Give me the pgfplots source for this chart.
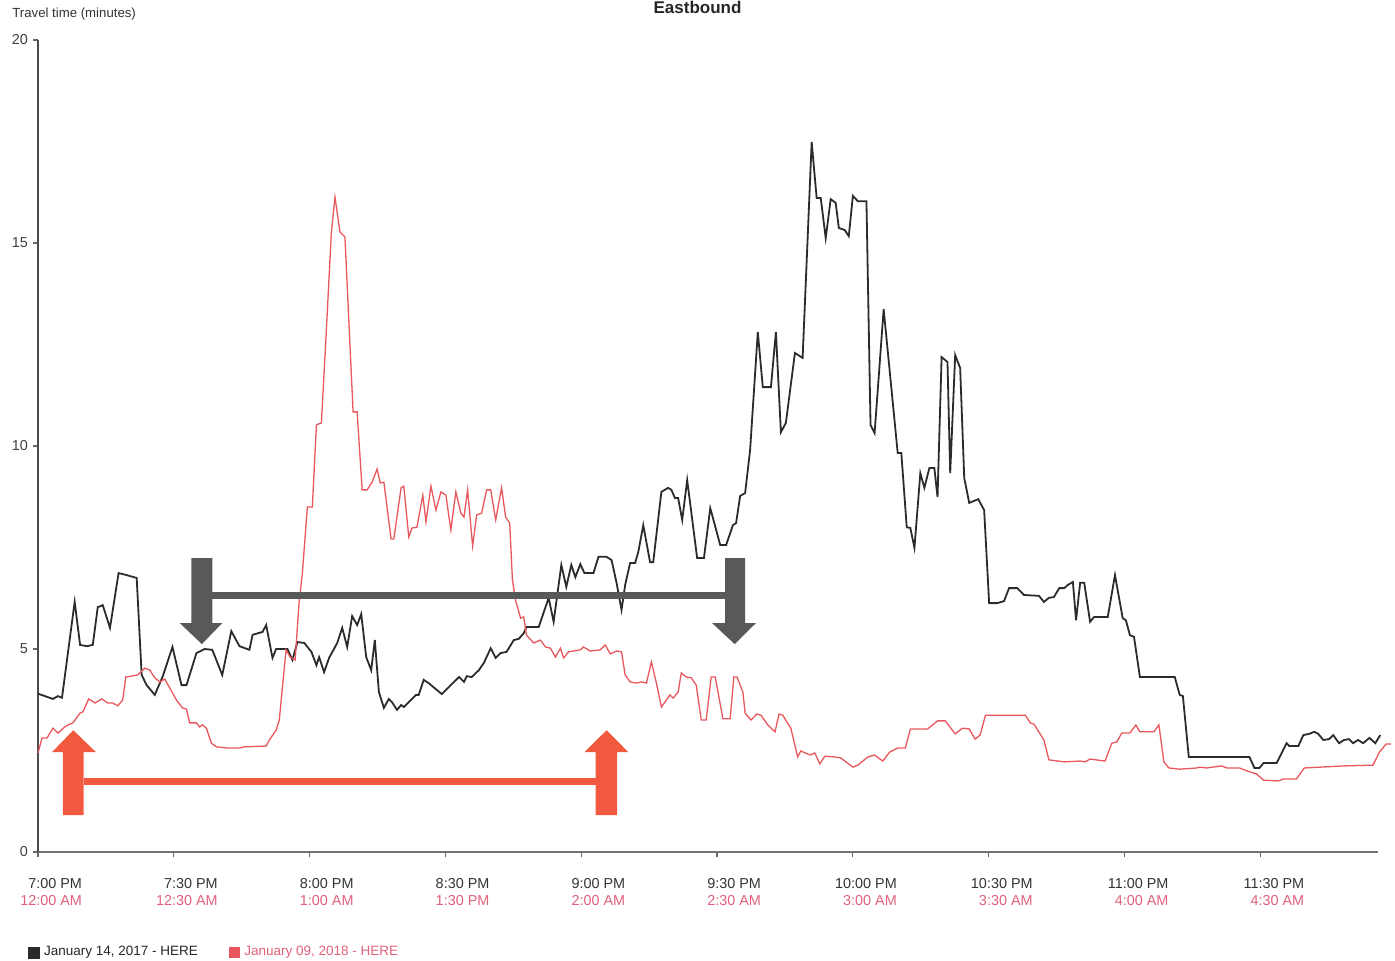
\documentclass[border=0pt]{standalone}
\usepackage{fontspec}
\setmainfont{Liberation Sans}
\usepackage{pgfplots}
\pgfplotsset{compat=1.18}
\definecolor{blk}{HTML}{2B2B2B}
\definecolor{lred}{HTML}{E8575D}
\definecolor{tred}{HTML}{E0607A}
\definecolor{agray}{HTML}{58595B}
\definecolor{ared}{HTML}{F15A3F}
\begin{document}
\begin{tikzpicture}[x=1pt,y=1pt]
\useasboundingbox (0,0) rectangle (697.5,480);
\begin{axis}[
  at={(19pt,54pt)}, anchor=south west,
  scale only axis, width=670pt, height=406pt,
  xmin=0, xmax=296, ymin=0, ymax=20,
  axis x line*=bottom, axis y line*=left,
  x axis line style={draw=black!55, line width=1.2pt},
  y axis line style={draw=black!70, line width=0.8pt},
  xtick={0,30,...,270},
  xticklabels={
    {7:00 PM\\\textcolor{tred}{12:00 AM}},
    {7:30 PM\\\textcolor{tred}{12:30 AM}},
    {8:00 PM\\\textcolor{tred}{1:00 AM}},
    {8:30 PM\\\textcolor{tred}{1:30 PM}},
    {9:00 PM\\\textcolor{tred}{2:00 AM}},
    {9:30 PM\\\textcolor{tred}{2:30 AM}},
    {10:00 PM\\\textcolor{tred}{3:00 AM}},
    {10:30 PM\\\textcolor{tred}{3:30 AM}},
    {11:00 PM\\\textcolor{tred}{4:00 AM}},
    {11:30 PM\\\textcolor{tred}{4:30 AM}}},
  ytick={0,5,10,15,20},
  tick align=outside, major tick length=2.5pt,
  tick style={black!60, line width=0.6pt},
  /pgf/number format/assume math mode=true,
  yticklabel style={font=\fontsize{7.2}{8}\selectfont, text=black!75, xshift=1pt},
  xticklabel style={font=\fontsize{7.2}{8.6}\selectfont, text=black!80, align=right, anchor=north east, xshift=25.5pt, yshift=-7pt},
  clip=false,
  legend style={at={(axis description cs:-0.0075,-0.124)}, anchor=west, draw=none, fill=none, inner sep=0pt,
    font=\fontsize{6.75}{8}\selectfont, text=black!85, /tikz/every even column/.append style={column sep=13.5pt}},
  legend columns=2, legend cell align=left,
  legend image code/.code={\fill[#1] (0pt,-2.5pt) rectangle (5pt,2.5pt);},
]
\addplot[blk, line width=0.9pt] coordinates {
(0,3.9) (3.3,3.77) (4.4,3.84) (5.3,3.8) (8.1,6.16) (9.3,5.1) (10.8,5.07) (12.1,5.1) (13.2,6.03) (14.3,6.08)
(15.9,5.52) (17.8,6.87) (19.6,6.82) (21.8,6.75) (22.9,4.36) (24.0,4.11) (25.8,3.87) (27.5,4.31) (29.7,5.05) (31.7,4.11)
(32.8,4.11) (35.0,4.9) (36.8,5.0) (38.5,4.98) (40.7,4.36) (42.7,5.44) (44.5,5.07) (46.7,4.98) (47.4,5.35) (49.6,5.42)
(50.4,5.59) (51.8,4.78) (52.6,5.0) (55.1,5.0) (56.2,4.73) (57.3,5.17) (58.8,5.15) (60.4,4.93) (61.5,4.6) (62.1,4.8)
(63.2,4.43) (64.3,4.78) (66.1,5.15) (67.2,5.52) (68.3,5.05) (69.4,5.81) (70.5,5.59) (71.4,5.86) (72.5,4.8) (73.6,4.48)
(74.4,5.22) (75.3,3.94) (76.4,3.55) (77.5,3.77) (78.2,3.69) (79.3,3.5) (80.2,3.62) (80.8,3.57) (81.9,3.69) (83.5,3.87)
(84.1,3.87) (85.2,4.24) (86.3,4.16) (87.9,4.01) (89.2,3.89) (90.7,4.06) (91.9,4.19) (93.0,4.31) (94.1,4.19) (94.7,4.33)
(95.8,4.31) (97.4,4.48) (98.5,4.66) (100.0,5.02) (101.1,4.78) (102.2,4.9) (103.5,4.93) (105.1,5.22) (106.2,5.25) (107.3,5.39)
(107.9,5.54) (110.6,5.54) (112.8,6.26) (113.9,5.67) (115.6,7.07) (116.7,6.53) (117.8,7.07) (118.7,6.77) (119.8,7.09) (120.7,6.87)
(122.7,6.87) (123.8,7.27) (125.6,7.27) (126.7,7.19) (127.8,6.63) (128.9,5.96) (129.7,6.58) (130.8,7.12) (131.9,7.12) (132.6,7.39)
(133.7,8.05) (135.2,7.14) (135.9,7.14) (137.7,8.87) (139.2,8.97) (139.9,8.92) (140.7,8.72) (141.4,8.72) (142.3,8.18) (143.4,9.16)
(145.6,7.24) (147.1,7.24) (148.5,8.47) (150.7,7.56) (152.0,7.56) (153.5,8.05) (154.2,8.1) (155.1,8.77) (156.2,8.84) (157.3,9.9)
(159.0,12.81) (160.1,11.45) (161.9,11.45) (163.0,12.81) (164.1,10.34) (165.2,10.57) (167.2,12.29) (168.9,12.17) (170.9,17.49) (172.0,16.11)
(172.9,16.11) (174.0,15.12) (175.1,16.08) (176.2,15.99) (176.9,15.37) (178.2,15.32) (179.1,15.17) (180.0,16.16) (181.1,16.03) (183.0,16.03)
(183.9,10.52) (184.8,10.32) (186.8,13.37) (189.9,9.83) (190.7,9.83) (191.9,8.0) (192.7,7.98) (193.6,7.49) (194.9,9.33) (195.8,8.97)
(196.9,9.46) (198.0,9.46) (198.7,8.74) (199.6,12.19) (200.9,12.07) (201.5,9.33) (202.6,12.24) (203.7,11.92) (204.6,9.21) (205.7,8.6)
(207.7,8.69) (209.0,8.42) (210.1,6.13) (211.9,6.13) (213.4,6.18) (214.5,6.5) (216.3,6.5) (217.8,6.33) (221.1,6.31) (222.2,6.16)
(223.3,6.26) (224.4,6.28) (225.6,6.5) (226.7,6.5) (227.5,6.58) (228.6,6.65) (229.3,5.71) (230.2,6.63) (231.1,6.63) (232.4,5.67)
(233.3,5.79) (236.3,5.79) (237.9,6.82) (239.6,5.76) (240.3,5.71) (241.2,5.34) (242.1,5.3) (243.4,4.31) (251.1,4.31) (252.2,3.87)
(252.9,3.84) (254.2,2.34) (267.6,2.34) (268.7,2.07) (269.8,2.07) (270.7,2.19) (273.6,2.19) (275.8,2.68) (276.4,2.61) (278.4,2.61)
(279.5,2.88) (280.8,2.91) (281.9,2.96) (282.8,2.91) (283.9,2.76) (285.2,2.78) (286.1,2.88) (287.4,2.68) (288.5,2.76) (289.6,2.78)
(290.5,2.68) (291.6,2.76) (292.7,2.68) (294.1,2.81) (295.4,2.68) (296.5,2.88)
};
\addlegendentry{January 14, 2017 - HERE}
\addplot[lred, line width=0.65pt] coordinates {
(0,2.44) (0.9,2.81) (2.0,2.81) (3.3,3.05) (4.4,2.93) (5.9,3.08) (6.6,3.13) (7.7,3.18) (9.3,3.42) (9.9,3.45)
(11.2,3.77) (12.6,3.67) (14.1,3.77) (15.4,3.67) (16.5,3.67) (17.6,3.6) (18.7,3.74) (19.4,4.31) (22.0,4.36) (23.6,4.53)
(24.7,4.48) (25.8,4.29) (26.9,4.19) (28.0,4.26) (29.1,4.04) (30.6,3.74) (31.9,3.55) (32.8,3.52) (33.5,3.18) (35.0,3.18)
(35.7,3.08) (36.3,3.13) (37.2,3.05) (38.3,2.68) (39.4,2.59) (41.9,2.56) (44.5,2.56) (45.6,2.59) (50.4,2.61) (51.1,2.76)
(52.6,3.0) (53.3,3.25) (54.0,4.06) (54.8,4.98) (55.7,4.8) (56.8,4.73) (57.7,6.2) (58.4,6.87) (59.5,8.5) (60.6,8.5)
(61.5,10.52) (62.6,10.57) (63.7,12.86) (64.8,15.25) (65.6,16.13) (66.7,15.27) (67.8,15.15) (69.6,10.84) (70.5,10.84) (71.6,8.92)
(72.7,8.92) (73.8,9.11) (74.9,9.43) (75.6,9.09) (76.4,9.11) (78.0,7.71) (78.6,7.71) (80.2,8.97) (80.8,9.01) (81.9,7.76)
(82.6,7.98) (83.7,8.0) (85.0,8.79) (85.7,8.13) (86.8,9.01) (87.9,8.42) (89.0,8.87) (90.1,8.79) (91.2,7.93) (92.3,8.87)
(93.4,8.35) (94.1,8.25) (94.9,8.92) (96.0,7.54) (96.9,8.3) (98.0,8.35) (99.1,8.92) (100.0,8.92) (101.1,8.18) (102.4,8.97)
(103.3,8.25) (104.2,8.1) (104.8,6.7) (105.5,6.2) (106.6,5.76) (107.3,5.79) (107.9,5.34) (109.5,5.15) (111.0,5.22) (112.1,5.05)
(113.2,5.02) (114.3,4.8) (115.4,5.02) (116.1,4.78) (117.2,4.93) (119.8,4.98) (120.5,5.05) (122.0,4.95) (124.2,4.98) (125.3,5.1)
(126.4,4.88) (127.8,4.95) (128.9,4.93) (129.7,4.36) (130.8,4.19) (132.2,4.16) (133.3,4.19) (134.4,4.16) (135.5,4.68) (136.6,4.16)
(137.7,3.57) (139.6,3.87) (140.3,3.79) (141.4,3.94) (142.1,4.41) (143.2,4.31) (144.3,4.29) (145.4,4.11) (146.5,3.25) (147.6,3.25)
(148.7,4.31) (149.6,4.31) (151.3,3.28) (152.9,3.28) (153.7,4.31) (154.4,4.31) (155.7,3.94) (156.2,3.42) (157.5,3.25) (158.8,3.4)
(159.7,3.37) (161.2,3.13) (162.8,2.96) (163.7,3.4) (164.5,3.37) (166.3,3.05) (167.8,2.34) (168.5,2.49) (170.5,2.39) (171.6,2.44)
(172.7,2.17) (173.8,2.36) (176.0,2.34) (177.3,2.32) (180.0,2.09) (181.1,2.14) (183.3,2.34) (184.8,2.39) (186.6,2.24) (188.1,2.46)
(189.9,2.56) (191.6,2.56) (192.7,3.03) (196.5,3.03) (198.7,3.23) (200.4,3.23) (202.6,2.91) (204.2,3.05) (205.7,3.03) (207.0,2.78)
(208.1,2.88) (209.3,3.37) (218.1,3.37) (219.2,3.18) (220.0,3.15) (222.2,2.76) (223.3,2.27) (226.7,2.22) (230.2,2.24) (231.3,2.22)
(232.4,2.29) (235.7,2.24) (237.2,2.68) (238.3,2.71) (239.4,2.93) (241.2,2.93) (242.5,3.13) (243.4,2.96) (246.5,2.96) (247.6,3.13)
(248.7,2.22) (249.8,2.07) (252.2,2.04) (256.0,2.07) (256.6,2.09) (258.1,2.07) (261.5,2.12) (262.6,2.07) (265.4,2.07) (267.0,2.0)
(269.2,1.92) (270.7,1.77) (274.0,1.75) (275.1,1.8) (278.0,1.8) (279.7,2.07) (288.3,2.12) (294.9,2.14) (296.3,2.46) (297.8,2.66)
(298.9,2.66)
};
\addlegendentry{\textcolor{tred}{January 09, 2018 - HERE}}
% annotation arrows
\fill[agray] (axis cs:38.5,6.40) rectangle (axis cs:151.8,6.23);
\fill[agray] (axis cs:33.9,7.24) -- (axis cs:38.5,7.24) -- (axis cs:38.5,5.64) -- (axis cs:40.7,5.64) -- (axis cs:36.2,5.12) -- (axis cs:31.3,5.64) -- (axis cs:33.9,5.64) -- cycle;
\fill[agray] (axis cs:151.8,7.24) -- (axis cs:156.2,7.24) -- (axis cs:156.2,5.64) -- (axis cs:158.6,5.64) -- (axis cs:153.9,5.12) -- (axis cs:148.9,5.64) -- (axis cs:151.8,5.64) -- cycle;
\fill[ared] (axis cs:10.1,1.82) rectangle (axis cs:123.2,1.65);
\fill[ared] (axis cs:5.5,0.91) -- (axis cs:10.1,0.91) -- (axis cs:10.1,2.46) -- (axis cs:12.8,2.46) -- (axis cs:7.8,3.0) -- (axis cs:3.1,2.46) -- (axis cs:5.5,2.46) -- cycle;
\fill[ared] (axis cs:123.2,0.91) -- (axis cs:127.9,0.91) -- (axis cs:127.9,2.46) -- (axis cs:130.4,2.46) -- (axis cs:125.6,3.0) -- (axis cs:120.7,2.46) -- (axis cs:123.2,2.46) -- cycle;
\end{axis}
\node[anchor=base, font=\bfseries\fontsize{8.5}{10}\selectfont, text=black!85] at (348.75,473.3) {Eastbound};
\node[anchor=base west, inner sep=0pt, font=\fontsize{6.6}{8}\selectfont, text=black!80] at (6,471) {Travel time (minutes)};
\end{tikzpicture}
\end{document}
